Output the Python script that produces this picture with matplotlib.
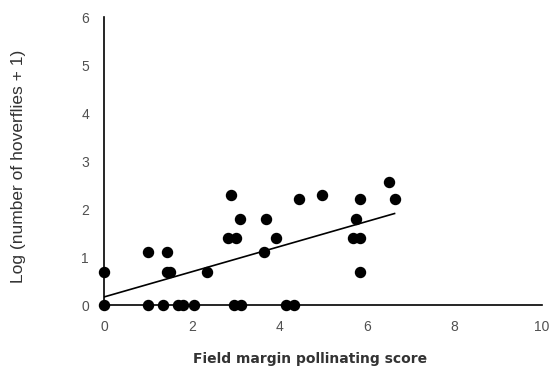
import matplotlib
matplotlib.use("Agg")
import matplotlib.pyplot as plt
import numpy as np

# field margin pollinating score vs log(hoverflies + 1)
score = [0.0, 0.0, 1.0, 1.0, 1.43, 1.43, 1.50, 1.34, 1.69, 1.80, 2.05, 2.35,
         2.89, 2.82, 3.01, 3.10, 2.96, 3.12, 3.69, 3.64, 3.92, 4.15, 4.33,
         4.44, 4.97, 5.83, 5.76, 5.67, 5.83, 5.85, 6.51, 6.63]
log_hoverflies = [0.69, 0.0, 1.10, 0.0, 1.10, 0.69, 0.69, 0.0, 0.0, 0.0, 0.0, 0.69,
                  2.30, 1.39, 1.39, 1.79, 0.0, 0.0, 1.79, 1.10, 1.39, 0.0, 0.0,
                  2.20, 2.30, 2.20, 1.79, 1.39, 1.39, 0.69, 2.56, 2.20]

# trend line
trend_intercept = 0.17
trend_slope = 0.262

x_ticks = [0, 2, 4, 6, 8, 10]
y_ticks = [0, 1, 2, 3, 4, 5, 6]

plt.rcParams["font.family"] = ["Liberation Sans", "DejaVu Sans"]

fig = plt.figure(figsize=(5.52, 3.72), dpi=100)
ax = fig.add_axes([0.189, 0.180, 0.793, 0.774])

ax.scatter(score, log_hoverflies, s=52, color="black", zorder=3, clip_on=False)

line_x = np.array([0, max(score)])
ax.plot(line_x, trend_intercept + trend_slope * line_x, color="black", linewidth=1.2)

ax.set_xlim(0, 10)
ax.set_ylim(0, 6)
ax.set_xticks(x_ticks)
ax.set_yticks(y_ticks)
ax.spines["top"].set_visible(False)
ax.spines["right"].set_visible(False)
ax.spines["left"].set_linewidth(1.2)
ax.spines["bottom"].set_linewidth(1.2)
ax.tick_params(axis="both", length=0, labelsize=10, labelcolor="#505050")
ax.tick_params(axis="x", pad=11)
ax.tick_params(axis="y", pad=11)

ax.set_xlabel("Field margin pollinating score", fontsize=10, fontweight="bold",
              color="#333333", family="DejaVu Sans")
ax.xaxis.set_label_coords(0.469, -0.163)
ax.set_ylabel("Log (number of hoverflies + 1)", fontsize=12.5, color="#333333")
ax.yaxis.set_label_coords(-0.180, 0.48)

fig.savefig("out.png", dpi=100, facecolor="white")
